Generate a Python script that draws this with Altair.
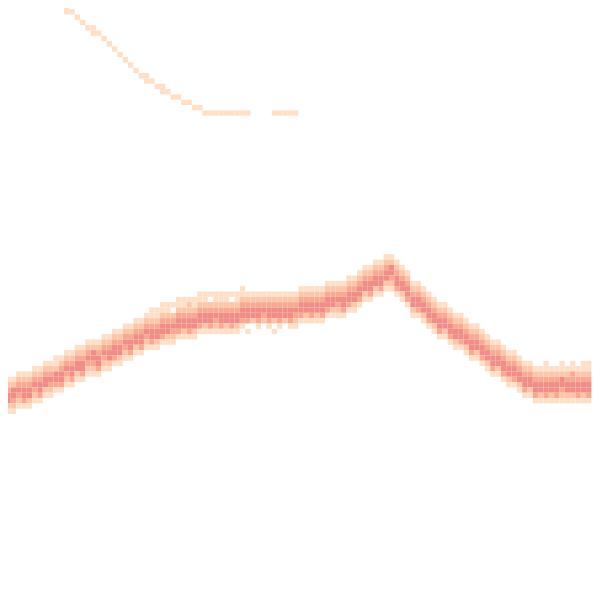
import altair as alt
import pandas as pd

# ---- data (grid bins, cell = 1/111 of the view) ----
# thin upper curve: (row, first column, last column), all at the lowest count
curve_rows = [0, 1, 2, 3, 4, 5, 6, 7, 8, 9, 10, 11, 12, 13, 14, 15, 16, 17, 18, 19, 20, 20]
curve_c0 = [12, 12, 14, 15, 16, 17, 19, 20, 21, 22, 23, 24, 25, 26, 27, 29, 30, 32, 34, 36, 38, 51]
curve_c1 = [12, 13, 14, 15, 17, 18, 19, 20, 21, 22, 23, 24, 25, 27, 28, 30, 31, 33, 35, 37, 46, 55]

# main band: for every column, the top row and the count level of each cell downward
band_top = [70, 70, 70, 69, 69, 69, 68, 68, 67, 67,
            66, 66, 65, 65, 64, 64, 63, 63, 63, 62,
            62, 61, 61, 60, 60, 59, 59, 58, 57, 57,
            56, 56, 56, 55, 55, 55, 55, 54, 54, 54,
            54, 54, 54, 54, 54, 53, 54, 54, 54, 54,
            54, 54, 54, 54, 54, 54, 53, 53, 53, 53,
            53, 52, 52, 52, 52, 51, 51, 50, 49, 49,
            48, 48, 47, 47, 48, 49, 50, 52, 52, 53,
            54, 55, 56, 56, 57, 58, 58, 59, 60, 60,
            61, 62, 63, 63, 64, 65, 65, 66, 67, 67,
            67, 67, 67, 67, 67, 67, 67, 67, 67, 67, 67]
band_levels = ["123431", "1234421", "1244321", "1234321", "1234431", "1234421", "1234321", "1234431", "1234421", "1234321",
               "1124431", "1234431", "1234321", "1234431", "1234421", "1234431", "1234321", "1244321", "1234431", "1234321",
               "1234421", "1234431", "1234421", "1234321", "1234431", "1234421", "1234431", "1234321", "11234431", "11234421",
               "11234431", "11234421", "10234321", "11234431", "11234421", "12234431", "11234421", "11234431", "11234421", "10234431",
               "11234321", "11234431", "11234421", "10234431", "11234421", "11234431", "123443 1", "123442", "1234431", "123432",
               "1234431", "123442 1", "1234431", "123442", "1234431", "1234321", "1234431", "1234421", "1234431", "1234421",
               "1234431", "1234431", "1234421", "1234321", "1234431", "1234431", "1234421", "1234431", "1234421", "1234431",
               "1234421", "1234431", "1234421", "1244321", "1234431", "1234421", "1234431", "1234421", "1234431", "1234421",
               "1234431", "1234421", "1234431", "1234421", "1234431", "1234421", "1234431", "1234421", "1234431", "1234421",
               "1234431", "1234421", "1234431", "1234421", "1234431", "1234421", "1234431", "1234421", "1234431", "1234421",
               "01234431", "01234421", "11234431", "01234421", "01234431", "11244321", "01234421", "11334421", "01234431", "11234421", "11234431"]

level_colors = ["#fee0c9", "#fcc6aa", "#f8a991", "#f08d87", "#e5737e"]

# ---- build the cell table ----
cells = []
for r, a, b in zip(curve_rows, curve_c0, curve_c1):
    for c in range(a, b + 1):
        cells.append({"col": c, "row": r, "count": 1})
for c, (top, lv) in enumerate(zip(band_top, band_levels)):
    for k, ch in enumerate(lv):
        if ch.strip() and int(ch) > 0:
            cells.append({"col": c, "row": top + k, "count": int(ch)})

df = pd.DataFrame(cells)
df["col2"] = df["col"] + 1
df["row2"] = df["row"] + 1

N = 600 / 5.4

chart = alt.Chart(df).mark_rect(stroke=None).encode(
    x=alt.X("col:Q", scale=alt.Scale(domain=[0, N], nice=False, zero=False), axis=None),
    x2="col2:Q",
    y=alt.Y("row:Q", scale=alt.Scale(domain=[0, N], nice=False, zero=False, reverse=True), axis=None),
    y2="row2:Q",
    color=alt.Color("count:O", scale=alt.Scale(domain=[1, 2, 3, 4, 5], range=level_colors), legend=None),
).properties(
    width=600,
    height=600,
    padding={"left": -8, "top": -8, "right": 0, "bottom": -40},
    background="white",
).configure_view(stroke=None)

chart.save("out.html", embed_options={"renderer": "svg", "actions": False})
